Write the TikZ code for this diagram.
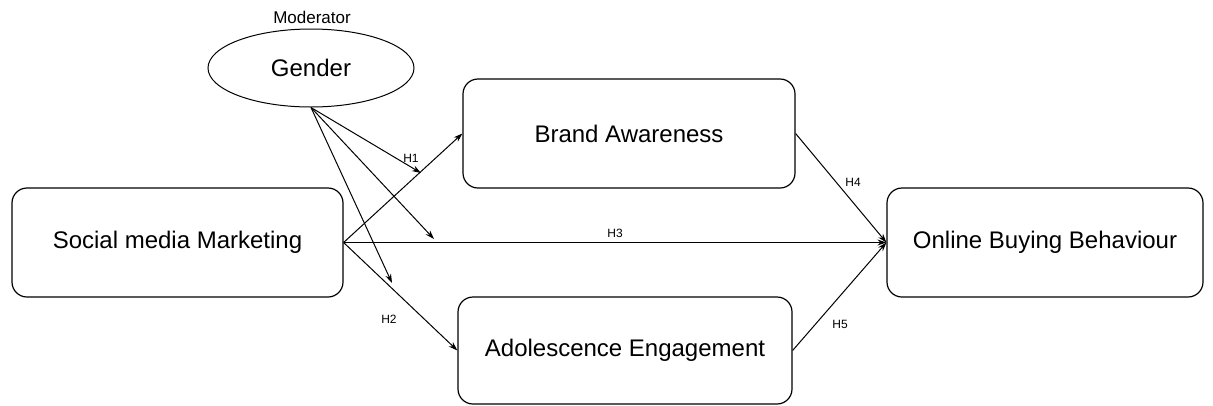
\documentclass[tikz,border=0pt]{standalone}
\usepackage{fontspec}
\setmainfont{Liberation Sans}
\usetikzlibrary{arrows.meta,shapes.geometric}
\begin{document}
\begin{tikzpicture}[x=1pt,y=-1pt]
\tikzstyle{every node}+=[inner sep=0pt]
\tikzstyle{box}=[draw, rounded corners=15pt, line width=1.2pt, minimum height=109pt, font=\fontsize{24}{28}\selectfont]
\tikzstyle{hyp}=[font=\fontsize{12}{14}\selectfont]
\tikzstyle{arr}=[line width=1pt, -{Stealth[length=9pt,width=6pt]}]
\useasboundingbox (0,0) rectangle (1213,405);
% constructs
\node[box, minimum width=331pt] (smm) at (177.5,242.5) {Social media Marketing};
\node[box, minimum width=332pt] (ba) at (629,133.5) {Brand Awareness};
\node[box, minimum width=334pt, minimum height=107pt] (ae) at (625,350.5) {Adolescence Engagement};
\node[box, minimum width=316pt] (obb) at (1045,242.5) {Online Buying Behaviour};
% moderator
\node[draw, ellipse, line width=1pt, minimum width=206pt, minimum height=78pt, font=\fontsize{24}{28}\selectfont] (gen) at (311,68) {Gender};
\node[font=\fontsize{17}{20}\selectfont] (mod) at (312,17) {Moderator};
\coordinate (m1) at (421,173);
\coordinate (m2) at (434,239);
\coordinate (m3) at (392,283);
% paths
\draw[arr] (smm.east) -- (ba.west);
\draw[arr] (smm.east) -- (ae.west);
\draw[arr] (smm.east) -- (obb.west);
\draw[arr] (ba.east) -- (obb.west);
\draw[arr] (ae.east) -- (obb.west);
\draw[arr] (gen.south) -- (m1);
\draw[arr] (gen.south) -- (m2);
\draw[arr] (gen.south) -- (m3);
% hypotheses
\node[hyp] (h1) at (411,158) {H1};
\node[hyp] (h2) at (389,319) {H2};
\node[hyp] (h3) at (615,233) {H3};
\node[hyp] (h4) at (853,182) {H4};
\node[hyp] (h5) at (840,324) {H5};
\end{tikzpicture}
\end{document}
